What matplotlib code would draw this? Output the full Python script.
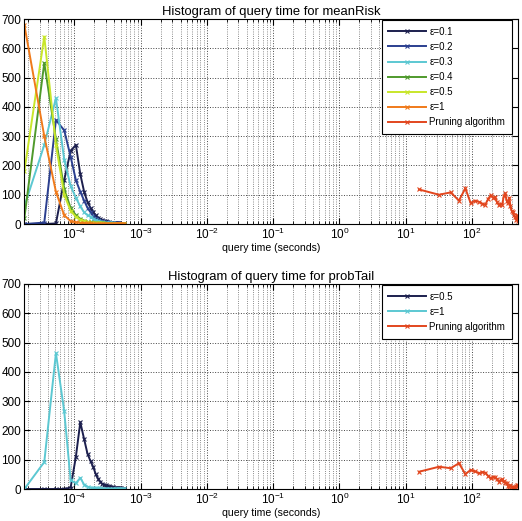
import matplotlib
matplotlib.use('Agg')
import matplotlib.pyplot as plt
from matplotlib.ticker import NullFormatter, MultipleLocator, LogLocator
import numpy as np

plt.rcParams['font.family'] = ['Liberation Sans', 'DejaVu Sans']
plt.rcParams['mathtext.fontset'] = 'custom'
plt.rcParams['mathtext.rm'] = 'Liberation Sans'

# histogram bin centres (seconds)
bins_fast = np.arange(1, 33) * 1.75e-5
bins_prune = np.arange(1, 32) * 16.0

# --- meanRisk ---
eps01 = [0, 0, 2, 150, 250, 270, 170, 110, 75, 55, 40, 30, 22, 17, 14, 11,
         9, 7, 6, 5, 4, 4, 3, 3, 2, 2, 2, 1, 1, 1, 0, 0]
eps02 = [0, 5, 355, 320, 230, 150, 110, 80, 55, 40, 28, 20, 15, 12, 10, 8,
         7, 6, 5, 4, 4, 3, 3, 2, 2, 2, 1, 1, 1, 0, 0, 0]
eps03 = [60, 270, 430, 220, 130, 90, 60, 40, 30, 25, 18, 14, 10, 8, 6, 5,
         4, 3, 3, 2, 2, 2, 1, 1, 1, 1, 0, 0, 0, 0, 0, 0]
eps04 = [20, 550, 290, 120, 55, 30, 18, 12, 8, 6, 5, 4, 3, 3, 2, 2,
         1, 1, 1, 1, 0, 0, 0, 0, 0, 0, 0, 0, 0, 0, 0, 0]
eps05 = [180, 640, 270, 100, 45, 25, 15, 10, 7, 5, 4, 3, 3, 2, 2, 1,
         1, 1, 1, 0, 0, 0, 0, 0, 0, 0, 0, 0, 0, 0, 0, 0]
eps1 = [680, 300, 110, 30, 10, 6, 4, 3, 2, 2, 1, 1, 1, 1, 1, 1,
        1, 1, 0, 0, 0, 0, 0, 0, 0, 0, 0, 0, 0, 0, 0, 0]
prune_mr = [118, 100, 108, 80, 122, 72, 80, 76, 70, 66, 85, 98, 90, 93, 75, 65,
            70, 66, 95, 105, 80, 72, 90, 60, 45, 42, 30, 25, 15, 30, 10]

# --- probTail ---
pt_eps05 = [0, 0, 0, 0, 5, 110, 228, 170, 120, 95, 75, 50, 35, 25, 18, 15,
            12, 10, 9, 8, 7, 6, 5, 5, 4, 3, 3, 2, 2, 1, 1, 0]
pt_eps1 = [0, 92, 464, 265, 30, 20, 38, 15, 8, 5, 4, 3, 2, 2, 1, 1,
           1, 1, 0, 0, 0, 0, 0, 0, 0, 0, 0, 0, 0, 0, 0, 0]
prune_pt = [59, 76, 71, 88, 51, 65, 60, 54, 58, 56, 45, 36, 42, 40, 35, 25,
            30, 33, 28, 20, 22, 10, 8, 12, 5, 8, 6, 8, 10, 12, 14]

x_ticks = [1e-4, 1e-3, 1e-2, 1e-1, 1e0, 1e1, 1e2]

top_labels = ['ε=0.1', 'ε=0.2', 'ε=0.3', 'ε=0.4', 'ε=0.5', 'ε=1', 'Pruning algorithm']
top_colors = ['#1c1f4e', '#2b3f8f', '#5cc8d2', '#4f9a2c', '#c8e62a', '#f07a1a', '#e2461e']
bot_labels = ['ε=0.5', 'ε=1', 'Pruning algorithm']
bot_colors = ['#1c1f4e', '#5cc8d2', '#e2461e']

fig = plt.figure(figsize=(5.22, 5.21), dpi=100)
ax1 = fig.add_axes([0.046, 0.570, 0.946, 0.3935])
ax2 = fig.add_axes([0.046, 0.0614, 0.946, 0.3935])

def draw(ax, series, labels, colors, title):
    for (x, y), lab, c in zip(series, labels, colors):
        ax.plot(x, y, color=c, lw=1.4, marker='x', ms=3, mew=0.8, label=lab)
    ax.set_xscale('log')
    ax.set_xlim(1.73e-5, 496)
    ax.set_ylim(0, 700)
    ax.yaxis.set_major_locator(MultipleLocator(100))
    ax.set_xticks(x_ticks)
    ax.xaxis.set_minor_locator(LogLocator(base=10, subs=np.arange(2, 10), numticks=20))
    ax.xaxis.set_minor_formatter(NullFormatter())
    ax.grid(True, which='major', ls=':', color='#444444', lw=0.7)
    ax.grid(True, which='minor', axis='x', ls=':', color='#666666', lw=0.6)
    ax.tick_params(which='both', direction='in', top=True, right=True, labelsize=8.5, pad=2)
    ax.tick_params(which='major', length=4)
    ax.tick_params(which='minor', length=2)
    ax.set_title(title, fontsize=9.4, pad=3)
    ax.set_xlabel('query time (seconds)', fontsize=7.6, labelpad=1)
    leg = ax.legend(loc='upper right', fontsize=7, handlelength=3.9, fancybox=False,
                    framealpha=1, edgecolor='black', borderpad=0.7, labelspacing=0.52,
                    borderaxespad=0.1, handletextpad=0.3, bbox_to_anchor=(0.99, 1.0))
    leg.get_frame().set_linewidth(0.8)

draw(ax1,
     [(bins_fast, eps01), (bins_fast, eps02), (bins_fast, eps03), (bins_fast, eps04),
      (bins_fast, eps05), (bins_fast, eps1), (bins_prune, prune_mr)],
     top_labels, top_colors, 'Histogram of query time for meanRisk')
draw(ax2,
     [(bins_fast, pt_eps05), (bins_fast, pt_eps1), (bins_prune, prune_pt)],
     bot_labels, bot_colors, 'Histogram of query time for probTail')

fig.savefig('out.png', dpi=100)
